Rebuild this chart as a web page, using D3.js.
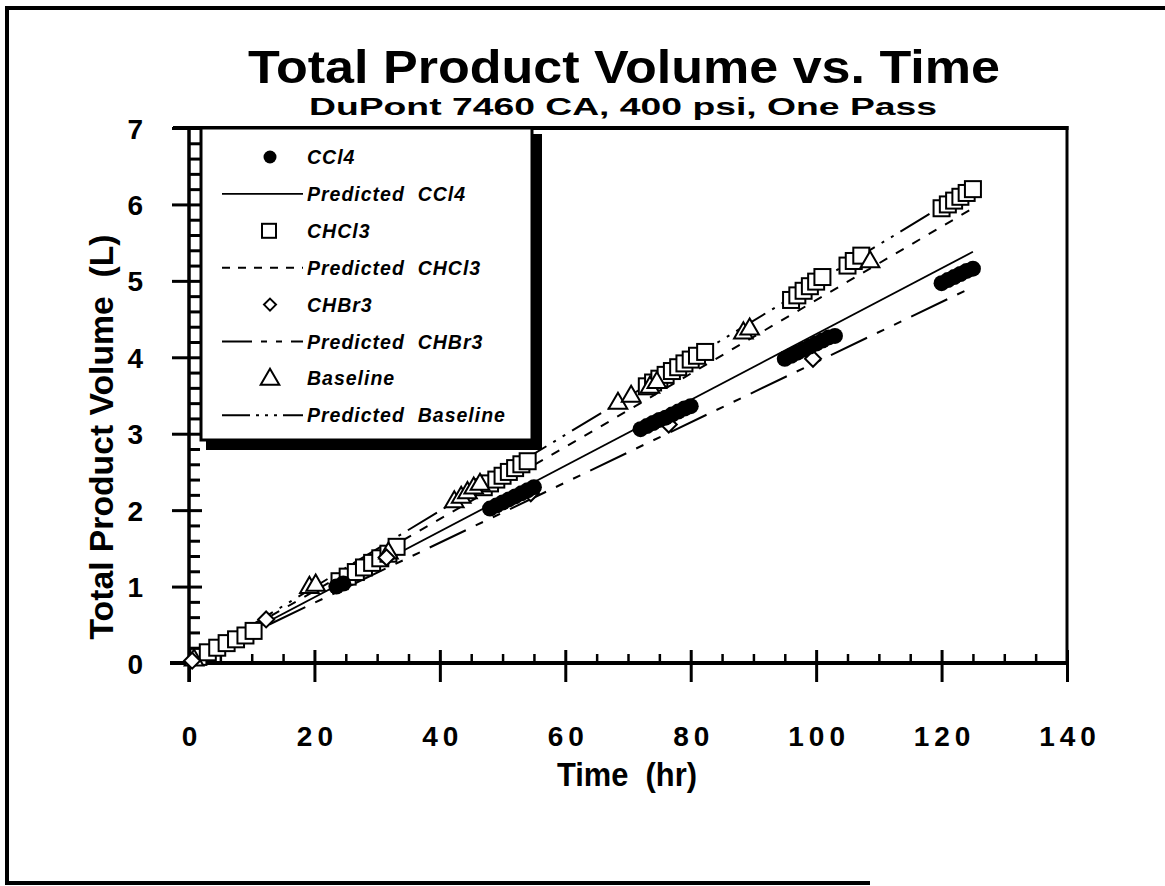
<!DOCTYPE html>
<html><head><meta charset="utf-8">
<script src="https://cdn.jsdelivr.net/npm/d3@7"></script>
<style>
body{margin:0;background:#fff;}
svg{display:block;font-family:"Liberation Sans",Arial,Helvetica,sans-serif;}
</style></head>
<body><svg id="chart" width="1165" height="886"></svg>
<script>
// ---------- data ----------
const title = "Total Product Volume vs. Time";
const subtitle = "DuPont 7460 CA, 400 psi, One Pass";
const xTitle = "Time  (hr)";
const yTitle = "Total Product Volume  (L)";
const xTickLabels = [0, 20, 40, 60, 80, 100, 120, 140];
const yTickLabels = [0, 1, 2, 3, 4, 5, 6, 7];

const ccl4T = [23.5, 24.6, 48, 49, 50, 51, 52, 53, 54, 55, 72, 73, 74, 75, 76, 77, 78, 79, 80, 95, 96, 97, 98, 99, 100, 101, 102, 103, 120, 121, 122, 123, 124, 125];
const ccl4V = [1.00, 1.04, 2.02, 2.06, 2.10, 2.14, 2.18, 2.22, 2.26, 2.30, 3.06, 3.10, 3.14, 3.18, 3.21, 3.25, 3.29, 3.33, 3.36, 3.98, 4.02, 4.06, 4.10, 4.14, 4.18, 4.22, 4.26, 4.28, 4.97, 5.01, 5.05, 5.09, 5.13, 5.16];

const chcl3T = [1.5, 3, 4.5, 6, 7.5, 9, 10.3, 24, 25.3, 26.6, 27.9, 29.2, 30.5, 31.8, 33.1, 47, 48, 49, 50, 51, 52, 53, 54, 73, 74, 75, 76, 77, 78, 79, 80, 81, 82.3, 96, 97, 98, 99, 100, 101, 105, 106, 107.2, 120, 121, 122, 123, 124, 125];
const chcl3V = [0.08, 0.14, 0.20, 0.26, 0.31, 0.36, 0.42, 1.07, 1.13, 1.19, 1.25, 1.31, 1.37, 1.43, 1.52, 2.30, 2.35, 2.40, 2.45, 2.50, 2.55, 2.60, 2.64, 3.62, 3.67, 3.72, 3.77, 3.82, 3.87, 3.92, 3.97, 4.02, 4.07, 4.75, 4.81, 4.87, 4.93, 4.99, 5.05, 5.20, 5.26, 5.33, 5.95, 6.00, 6.05, 6.10, 6.15, 6.20];

const chbr3T = [0.5, 12.3, 31.5, 54.5, 76.5, 99.5];
const chbr3V = [0.03, 0.57, 1.38, 2.22, 3.12, 3.98];

const baseT = [0.8, 19.2, 20.2, 31.8, 42.3, 43.4, 44.4, 45.4, 46.4, 68.4, 70.5, 73.5, 74.6, 88.4, 89.4, 108.6];
const baseV = [0.05, 1.00, 1.03, 1.45, 2.12, 2.18, 2.24, 2.30, 2.35, 3.41, 3.50, 3.62, 3.68, 4.33, 4.38, 5.26];

const predCCl4T = [0, 125];   const predCCl4V = [0, 5.38];
const predCHCl3T = [0, 62, 125]; const predCHCl3V = [0, 2.92, 5.95];
const predCHBr3T = [0, 125];  const predCHBr3V = [0, 4.92];
const predBaseT = [0, 125];   const predBaseV = [0, 6.22];

const legendLabels = ["CCl4", "Predicted  CCl4", "CHCl3", "Predicted  CHCl3", "CHBr3", "Predicted  CHBr3", "Baseline", "Predicted  Baseline"];

// ---------- drawing ----------
const svg = d3.select("#chart");
const x = d3.scaleLinear().domain([0, 140]).range([189, 1067]);
const y = d3.scaleLinear().domain([0, 7]).range([663, 128]);

// page frame
svg.append("line").attr("x1",5).attr("x2",1165).attr("y1",8).attr("y2",8).attr("stroke","#000").attr("stroke-width",4);
svg.append("line").attr("x1",7).attr("x2",7).attr("y1",6).attr("y2",885).attr("stroke","#000").attr("stroke-width",4);
svg.append("line").attr("x1",5).attr("x2",870).attr("y1",883).attr("y2",883).attr("stroke","#000").attr("stroke-width",4);

// titles
svg.append("text").attr("x",624).attr("y",83).attr("text-anchor","middle")
  .attr("font-size",47).attr("font-weight","bold").attr("textLength",752).attr("lengthAdjust","spacingAndGlyphs").text(title);
svg.append("text").attr("x",623).attr("y",115).attr("text-anchor","middle")
  .attr("font-size",24).attr("font-weight","bold").attr("textLength",628).attr("lengthAdjust","spacingAndGlyphs").text(subtitle);

// plot frame (top & right)
svg.append("line").attr("x1",173).attr("x2",1068.5).attr("y1",y(7)).attr("y2",y(7)).attr("stroke","#000").attr("stroke-width",4);
svg.append("line").attr("x1",x(140)).attr("x2",x(140)).attr("y1",y(7)-2).attr("y2",y(0)).attr("stroke","#000").attr("stroke-width",3);

// x axis
const xMinor = d3.range(0, 141, 5).filter(v => v % 20 !== 0);
const gxMinor = svg.append("g").attr("transform",`translate(0,${y(0)})`)
  .call(d3.axisTop(x).tickValues(xMinor).tickSize(9).tickFormat(""));
gxMinor.select(".domain").remove();
gxMinor.selectAll("line").attr("stroke-width",2.5);
const gxMajor = svg.append("g").attr("transform",`translate(0,${y(0)})`)
  .call(d3.axisBottom(x).tickValues(xTickLabels).tickSize(19).tickPadding(44).tickFormat(d3.format("d")));
gxMajor.select(".domain").remove();
gxMajor.selectAll("line").attr("y1",-13).attr("stroke-width",3);
gxMajor.selectAll("text").attr("font-size",28).attr("font-weight","bold").attr("font-family",null)
  .attr("letter-spacing","5px").attr("dx","2.5px");
svg.append("line").attr("x1",170).attr("x2",1068.5).attr("y1",y(0)).attr("y2",y(0)).attr("stroke","#000").attr("stroke-width",4);

// y axis
const yMinor = d3.range(0, 35).map(i => i / 5).filter(v => Math.abs(v - Math.round(v)) > 1e-6);
const gyMinor = svg.append("g").attr("transform",`translate(${x(0)},0)`)
  .call(d3.axisRight(y).tickValues(yMinor).tickSize(11).tickFormat(""));
gyMinor.select(".domain").remove();
gyMinor.selectAll("line").attr("stroke-width",3);
const gyMajor = svg.append("g").attr("transform",`translate(${x(0)},0)`)
  .call(d3.axisLeft(y).tickValues(yTickLabels).tickSize(17).tickPadding(29).tickFormat(d3.format("d")));
gyMajor.select(".domain").remove();
gyMajor.selectAll("line").attr("x2",-17).attr("x1",13).attr("stroke-width",3);
gyMajor.selectAll("text").attr("font-size",28).attr("font-weight","bold").attr("font-family",null).attr("dy","0.36em");
svg.append("line").attr("x1",x(0)).attr("x2",x(0)).attr("y1",y(7)-2).attr("y2",y(0)+19).attr("stroke","#000").attr("stroke-width",3.5);

// axis titles
svg.append("text").attr("x",627).attr("y",786).attr("text-anchor","middle")
  .attr("font-size",34).attr("font-weight","bold").attr("textLength",140).attr("lengthAdjust","spacingAndGlyphs")
  .style("white-space","pre").text(xTitle);
svg.append("text").attr("transform","translate(113,437) rotate(-90)").attr("text-anchor","middle")
  .attr("font-size",34).attr("font-weight","bold").attr("textLength",405).attr("lengthAdjust","spacingAndGlyphs")
  .style("white-space","pre").text(yTitle);

// predicted lines
const line = d3.line().x(d => x(d[0])).y(d => y(d[1]));
const pts = (T, V) => T.map((t, i) => [t, V[i]]);
const plotG = svg.append("g");
plotG.append("path").attr("d", line(pts(predBaseT, predBaseV))).attr("fill","none").attr("stroke","#000").attr("stroke-width",2).attr("stroke-dasharray","34,8,3,8,3,8");
plotG.append("path").attr("d", line(pts(predCHCl3T, predCHCl3V))).attr("fill","none").attr("stroke","#000").attr("stroke-width",2).attr("stroke-dasharray","9,10");
plotG.append("path").attr("d", line(pts(predCHBr3T, predCHBr3V))).attr("fill","none").attr("stroke","#000").attr("stroke-width",2).attr("stroke-dasharray","40,11,8,11,8,11");
plotG.append("path").attr("d", line(pts(predCCl4T, predCCl4V))).attr("fill","none").attr("stroke","#000").attr("stroke-width",1.8);

// markers
const sq = 16, tri = d3.symbol().type(d3.symbolTriangle).size(150), dia = 8;
plotG.selectAll(".sq").data(pts(chcl3T, chcl3V)).join("rect")
  .attr("x", d => x(d[0]) - sq/2).attr("y", d => y(d[1]) - sq/2).attr("width", sq).attr("height", sq)
  .attr("fill","#fff").attr("stroke","#000").attr("stroke-width",2);
plotG.selectAll(".tri").data(pts(baseT, baseV)).join("path")
  .attr("d", tri).attr("transform", d => `translate(${x(d[0])},${y(d[1])+1})`)
  .attr("fill","#fff").attr("stroke","#000").attr("stroke-width",2);
plotG.selectAll(".dia").data(pts(chbr3T, chbr3V)).join("path")
  .attr("d", `M0,${-dia}L${dia},0L0,${dia}L${-dia},0Z`).attr("transform", d => `translate(${x(d[0])},${y(d[1])})`)
  .attr("fill","#fff").attr("stroke","#000").attr("stroke-width",2);
plotG.selectAll(".dot").data(pts(ccl4T, ccl4V)).join("circle")
  .attr("cx", d => x(d[0])).attr("cy", d => y(d[1])).attr("r", 8).attr("fill","#000");

// legend
const lg = svg.append("g");
lg.append("rect").attr("x",206).attr("y",134).attr("width",336).attr("height",316).attr("fill","#000");
lg.append("rect").attr("x",201).attr("y",y(7)).attr("width",331).attr("height",312).attr("fill","#fff").attr("stroke","#000").attr("stroke-width",3);
const rowY = i => 157 + i * 36.9;
legendLabels.forEach((lab, i) => {
  const yy = rowY(i);
  lg.append("text").attr("x",307).attr("y",yy+7).attr("font-size",19.5).attr("font-weight","bold")
    .attr("font-style","italic").attr("letter-spacing","1px").style("white-space","pre").text(lab);
});
// legend symbols
lg.append("circle").attr("cx",270).attr("cy",rowY(0)).attr("r",6.5).attr("fill","#000");
lg.append("line").attr("x1",222).attr("x2",303).attr("y1",rowY(1)).attr("y2",rowY(1)).attr("stroke","#000").attr("stroke-width",1.8);
lg.append("rect").attr("x",262).attr("y",rowY(2)-7).attr("width",14).attr("height",14).attr("fill","#fff").attr("stroke","#000").attr("stroke-width",2);
lg.append("line").attr("x1",222).attr("x2",303).attr("y1",rowY(3)).attr("y2",rowY(3)).attr("stroke","#000").attr("stroke-width",2).attr("stroke-dasharray","8,8");
lg.append("path").attr("d",`M0,-6L6,0L0,6L-6,0Z`).attr("transform",`translate(270,${rowY(4)})`).attr("fill","#fff").attr("stroke","#000").attr("stroke-width",2);
lg.append("line").attr("x1",222).attr("x2",303).attr("y1",rowY(5)).attr("y2",rowY(5)).attr("stroke","#000").attr("stroke-width",2).attr("stroke-dasharray","30,9,6,9,6,9,30");
lg.append("path").attr("d",tri).attr("transform",`translate(270,${rowY(6)+1})`).attr("fill","#fff").attr("stroke","#000").attr("stroke-width",2);
lg.append("line").attr("x1",222).attr("x2",303).attr("y1",rowY(7)).attr("y2",rowY(7)).attr("stroke","#000").attr("stroke-width",2).attr("stroke-dasharray","28,6,3,6,3,6,3,6,30");
</script></body></html>
